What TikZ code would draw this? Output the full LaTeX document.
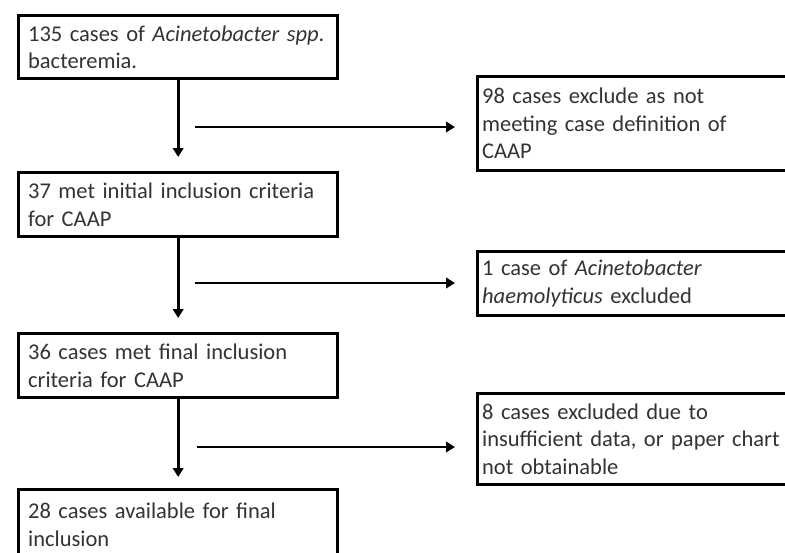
\documentclass[tikz,border=0pt]{standalone}
\usepackage{fontspec}
\setmainfont{Carlito}
\usetikzlibrary{arrows.meta}
\begin{document}
\begin{tikzpicture}[x=1pt,y=-1pt,
  every node/.style={font=\fontsize{22.5}{27.5}\selectfont, text=black!80},
  leftbox/.style={draw=black, line width=3.3pt, anchor=north west, text width=300pt,
    inner xsep=9.5pt, inner ysep=0pt, align=left},
  rightbox/.style={draw=black, line width=3.3pt, anchor=north west, text width=330pt,
    inner xsep=4.5pt, inner ysep=0pt, align=left},
  flow/.style={line width=2.8pt, -{Triangle[length=9pt,width=10.5pt]}}]
\useasboundingbox (0,0) rectangle (785,552);
\clip (0,0) rectangle (785,552);
\fill[white] (0,0) rectangle (785,552);
% left column
\node[leftbox, minimum height=63pt] (b1) at (17,14)
  {\mbox{135 cases of \textit{Acinetobacter spp}.}\\bacteremia.};
\node[leftbox, minimum height=64pt] (b2) at (17,171)
  {\mbox{37 met initial inclusion criteria}\\for CAAP};
\node[leftbox, minimum height=64pt] (b3) at (17,332)
  {\mbox{36 cases met final inclusion}\\criteria for CAAP};
\node[leftbox, minimum height=70pt] (b4) at (17,488)
  {\mbox{28 cases available for final}\\inclusion};
% right column
\node[rightbox, minimum height=94pt] (r1) at (476,75)
  {\mbox{98 cases exclude as not}\\\mbox{meeting case definition of}\\CAAP};
\node[rightbox, minimum height=64pt] (r2) at (476,250)
  {\mbox{1 case of \textit{Acinetobacter}}\\\mbox{\textit{haemolyticus} excluded}};
\node[rightbox, minimum height=91pt] (r3) at (476,392)
  {\mbox{8 cases excluded due to}\\\mbox{insufficient data, or paper chart}\\not obtainable};
% vertical arrows
\draw[flow, shorten >=14pt] (b1.south) -- (b2.north);
\draw[flow, shorten >=14pt] (b2.south) -- (b3.north);
\draw[flow, shorten >=11pt] (b3.south) -- (b4.north);
% horizontal arrows
\coordinate (h1) at (195,127);
\coordinate (h2) at (195,283);
\coordinate (h3) at (197,447);
\draw[flow, shorten >=21pt] (h1) -- (h1 -| r1.west);
\draw[flow, shorten >=21pt] (h2) -- (h2 -| r2.west);
\draw[flow, shorten >=21pt] (h3) -- (h3 -| r3.west);
\end{tikzpicture}
\end{document}
